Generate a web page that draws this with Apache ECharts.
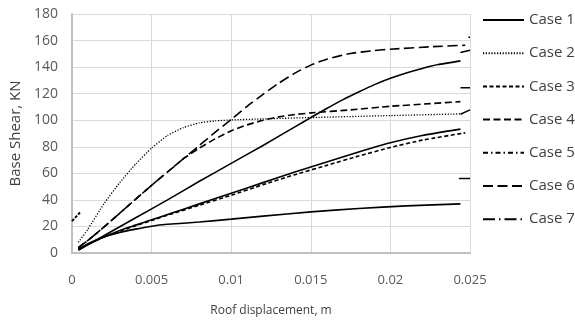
<!DOCTYPE html>
<html><head><meta charset="utf-8">
<script src="https://cdn.jsdelivr.net/npm/echarts@6/dist/echarts.min.js"></script>
<style>html,body{margin:0;padding:0;background:#fff}#c{width:575px;height:322px}</style>
</head><body><div id="c"></div>
<script>
const seriesNames = ['Case 1','Case 2','Case 3','Case 4','Case 5','Case 6','Case 7'];
const xTicks = [0, 0.005, 0.01, 0.015, 0.02, 0.025];
const yTicks = [0, 20, 40, 60, 80, 100, 120, 140, 160, 180];

const case1 = [[0.0004,2],[0.002,13],[0.004,26.5],[0.006,40],[0.008,54],[0.01,67.5],[0.012,81],[0.014,95],[0.015,102],[0.016,108.8],[0.017,115.3],[0.018,121.2],[0.019,126.8],[0.02,131.6],[0.021,135.6],[0.022,139],[0.023,141.9],[0.0244,144.7]];
const case2 = [[0.0004,8],[0.001,18],[0.002,37],[0.003,53],[0.004,67],[0.005,79],[0.006,88.5],[0.007,94.5],[0.008,98],[0.009,99.5],[0.01,100.2],[0.012,101],[0.015,102],[0.02,103.5],[0.0245,104.8]];
const case3 = [[0.0004,3],[0.001,6.5],[0.002,12],[0.003,16.5],[0.004,20.5],[0.005,24.5],[0.006,28.5],[0.008,36],[0.01,43.5],[0.012,51.5],[0.014,59],[0.016,66],[0.018,73],[0.02,79.5],[0.022,85],[0.0247,90.5]];
const case4 = [[0.0004,4],[0.001,9.5],[0.002,19.5],[0.003,30],[0.004,40.5],[0.005,51],[0.006,61],[0.007,71],[0.008,79],[0.009,86],[0.01,92],[0.011,96.5],[0.012,100],[0.013,102.5],[0.014,104.3],[0.015,105.5],[0.0175,107.8],[0.02,110.5],[0.0225,112.5],[0.0244,114]];
const case5 = [[0.0004,3],[0.001,6.5],[0.002,12],[0.003,17],[0.004,21],[0.005,25],[0.006,29],[0.008,37],[0.01,45],[0.012,53],[0.014,61],[0.016,68.5],[0.018,76],[0.02,83],[0.022,88.5],[0.0244,93.3]];
const case6 = [[0.0004,4],[0.001,9.5],[0.002,19.5],[0.003,30],[0.004,40.5],[0.005,51],[0.006,61],[0.007,71],[0.008,81],[0.009,91],[0.01,100.5],[0.011,110.5],[0.012,119.5],[0.013,128],[0.014,135.5],[0.015,141.5],[0.016,146],[0.0175,150.3],[0.019,152.5],[0.02,153.5],[0.0225,155.3],[0.0247,156.5]];
const case7 = [[0.0004,2.5],[0.001,7],[0.002,12],[0.003,15.5],[0.004,18],[0.005,20.2],[0.006,21.6],[0.008,23.3],[0.01,25.5],[0.012,27.8],[0.015,31],[0.018,33.5],[0.021,35.5],[0.0244,37]];

// stray marks at plot edges seen in the reference
const leftMark = [[0,24],[0.0005,30.5]];
const rightMarks = [
  [[0.0249,162.5],[0.025,162.5]],
  [[0.0244,151],[0.025,152.7]],
  [[0.0244,124.5],[0.025,124.5]],
  [[0.0244,104.5],[0.025,107.8]],
  [[0.0243,56.1],[0.025,56.1]]
];

const dashes = {
  'Case 1': 'solid',
  'Case 2': [1.2, 1.6],
  'Case 3': [4, 2.5],
  'Case 4': [7, 3.5],
  'Case 5': 'solid',
  'Case 6': [10, 4.5],
  'Case 7': 'solid'
};
const legendDashes = {
  'Case 5': [5, 3, 1.5, 3],
  'Case 7': [12, 4, 1.5, 4]
};
const datas = [case1, case2, case3, case4, case5, case6, case7];

const series = seriesNames.map((n, i) => ({
  name: n, type: 'line', data: datas[i], symbol: 'none', showSymbol: false,
  smooth: 0.15,
  color: '#000', itemStyle: { color: '#000' },
  lineStyle: { color: '#000', width: n === 'Case 2' ? 1.3 : 1.6, type: dashes[n] },
  z: 3
}));
series.push({ type: 'line', data: leftMark, symbol: 'none', silent: true,
  lineStyle: { color: '#000', width: 2, type: [3, 1.5] } });
rightMarks.forEach(seg => series.push({ type: 'line', data: seg, symbol: 'none', silent: true,
  lineStyle: { color: '#000', width: 1.6 } }));

const font = 'Open Sans';
const chart = echarts.init(document.getElementById('c'), null, { renderer: 'canvas' });
chart.setOption({
  animation: false,
  backgroundColor: '#fff',
  grid: { left: 72, right: 105, top: 14, bottom: 68, containLabel: false },
  legend: {
    orient: 'vertical', left: 482, top: 11, padding: 0,
    itemWidth: 41, itemHeight: 18, itemGap: 15.2,
    itemStyle: { opacity: 0 },
    lineStyle: { width: 2 },
    textStyle: { fontFamily: font, fontSize: 15, color: '#404040', lineHeight: 18 },
    data: seriesNames.map(n => legendDashes[n] ? { name: n, lineStyle: { type: legendDashes[n] } } : { name: n })
  },
  xAxis: {
    type: 'value', min: xTicks[0], max: xTicks[xTicks.length - 1], interval: xTicks[1] - xTicks[0],
    name: 'Roof displacement, m', nameLocation: 'middle', nameGap: 52,
    nameTextStyle: { fontFamily: font, fontSize: 12, color: '#404040' },
    axisLine: { lineStyle: { color: '#bfbfbf', width: 2 } },
    axisTick: { show: false },
    axisLabel: { fontFamily: font, fontSize: 13, color: '#595959', margin: 21,
      formatter: v => String(parseFloat(v.toFixed(3))) },
    splitLine: { lineStyle: { color: '#d9d9d9', width: 1 } }
  },
  yAxis: {
    type: 'value', min: yTicks[0], max: yTicks[yTicks.length - 1], interval: yTicks[1] - yTicks[0],
    name: 'Base Shear, KN', nameLocation: 'middle', nameGap: 48,
    nameTextStyle: { fontFamily: font, fontSize: 15, color: '#404040' },
    axisLine: { show: true, lineStyle: { color: '#bfbfbf', width: 2 } },
    axisTick: { show: false },
    axisLabel: { fontFamily: font, fontSize: 14, color: '#595959', margin: 14 },
    splitLine: { lineStyle: { color: '#d9d9d9', width: 1 } }
  },
  series: series
});
</script></body></html>
